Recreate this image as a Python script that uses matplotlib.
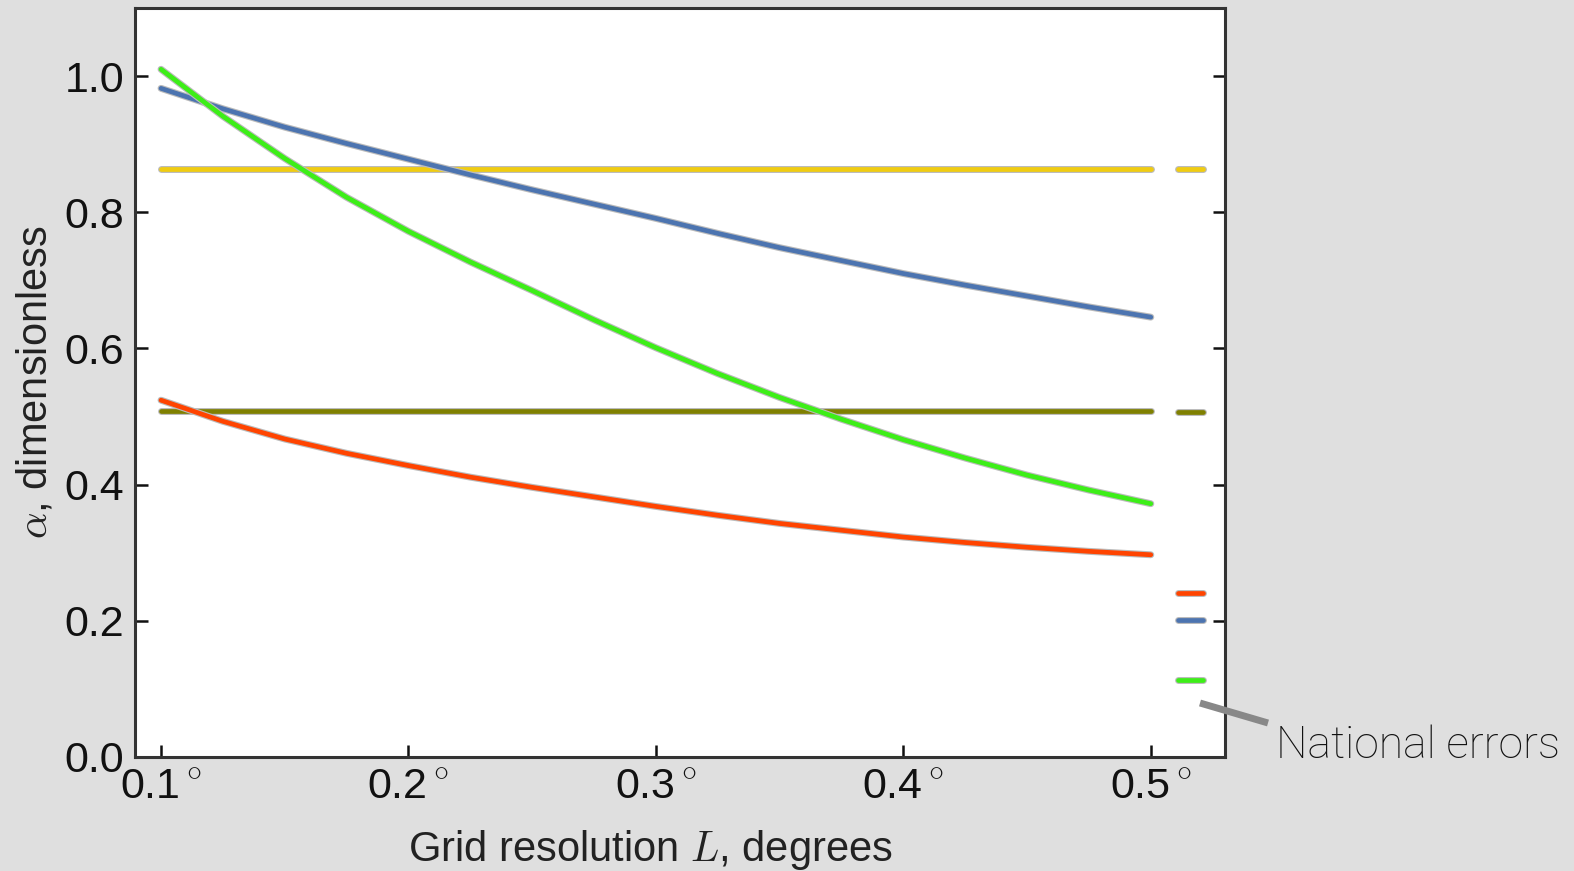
import matplotlib
matplotlib.use('Agg')
import matplotlib.pyplot as plt
import matplotlib.patheffects as pe

plt.rcParams['font.family'] = ['Liberation Sans', 'DejaVu Sans']
plt.rcParams['mathtext.fontset'] = 'cm'

# grid resolution, degrees
res = [0.100, 0.125, 0.150, 0.175, 0.200, 0.225, 0.250, 0.275, 0.300,
       0.325, 0.350, 0.375, 0.400, 0.425, 0.450, 0.475, 0.500]
alpha_green = [1.010, 0.941, 0.879, 0.822, 0.772, 0.727, 0.685, 0.642, 0.601,
               0.563, 0.528, 0.496, 0.466, 0.439, 0.414, 0.392, 0.372]
alpha_blue = [0.982, 0.952, 0.925, 0.901, 0.878, 0.855, 0.833, 0.812, 0.791,
              0.769, 0.748, 0.729, 0.710, 0.693, 0.677, 0.661, 0.646]
alpha_red = [0.524, 0.493, 0.467, 0.446, 0.428, 0.411, 0.396, 0.382, 0.368,
             0.355, 0.343, 0.333, 0.323, 0.315, 0.308, 0.302, 0.297]
alpha_yellow = 0.863
alpha_olive = 0.508

# national errors (short marks at right)
nat_x = [0.511, 0.521]
nat_yellow = 0.863
nat_olive = 0.506
nat_red = 0.241
nat_blue = 0.201
nat_green = 0.113

xticks = [0.1, 0.2, 0.3, 0.4, 0.5]
xticklabels = ['0.1$^\\circ$', '0.2$^\\circ$', '0.3$^\\circ$', '0.4$^\\circ$', '0.5$^\\circ$']
yticks = [0.0, 0.2, 0.4, 0.6, 0.8, 1.0]

c_green = '#3dee18'
c_blue = '#4c74b0'
c_red = '#ff4400'
c_yellow = '#f0cc11'
c_olive = '#7f8000'

fig = plt.figure(figsize=(15.74, 8.71), dpi=100)
fig.patch.set_facecolor('#dfdfdf')
ax = fig.add_axes([0.0858, 0.1309, 0.6925, 0.8599])

lw = 3.4
fx = [pe.Stroke(linewidth=lw + 1.6, foreground='#bbbbbb'), pe.Normal()]
kw = dict(lw=lw, solid_capstyle='round', solid_joinstyle='round', path_effects=fx)

ax.plot([res[0], res[-1]], [alpha_yellow, alpha_yellow], color=c_yellow, **kw)
ax.plot([res[0], res[-1]], [alpha_olive, alpha_olive], color=c_olive, **kw)
ax.plot(res, alpha_red, color=c_red, **kw)
ax.plot(res, alpha_blue, color=c_blue, **kw)
ax.plot(res, alpha_green, color=c_green, **kw)

ax.plot(nat_x, [nat_yellow] * 2, color=c_yellow, **kw)
ax.plot(nat_x, [nat_olive] * 2, color=c_olive, **kw)
ax.plot(nat_x, [nat_red] * 2, color=c_red, **kw)
ax.plot(nat_x, [nat_blue] * 2, color=c_blue, **kw)
ax.plot(nat_x, [nat_green] * 2, color=c_green, **kw)

ax.set_xlim(0.0895, 0.53)
ax.set_ylim(0, 1.1)
ax.set_xticks(xticks)
ax.set_xticklabels(xticklabels)
ax.set_yticks(yticks)
ax.set_yticklabels(['%.1f' % v for v in yticks])
ax.tick_params(direction='in', length=9, width=1.8, labelsize=31, colors='#111111',
               left=True, right=True, top=False, bottom=True, pad=8)
for s in ax.spines.values():
    s.set_linewidth(2.2)
    s.set_color('#333333')

ax.set_xlabel('Grid resolution $L$, degrees', fontsize=30, color='#222222')
ax.xaxis.set_label_coords(0.4725, -0.095)
ax.set_ylabel('$\\alpha$, dimensionless', fontsize=30, color='#222222', labelpad=6)

# annotation for national errors
fig.add_artist(plt.Line2D([1200 / 1574, 1268 / 1574], [1 - 703 / 871, 1 - 723 / 871],
                          color='#888888', lw=5, solid_capstyle='butt'))
fig.text(1276 / 1574, 1 - 758 / 871, 'National errors', fontsize=32,
         family=['Roboto', 'Liberation Sans'], fontweight='light', color='#111111',
         ha='left', va='baseline')

fig.savefig('out.png', dpi=100, facecolor=fig.get_facecolor())
